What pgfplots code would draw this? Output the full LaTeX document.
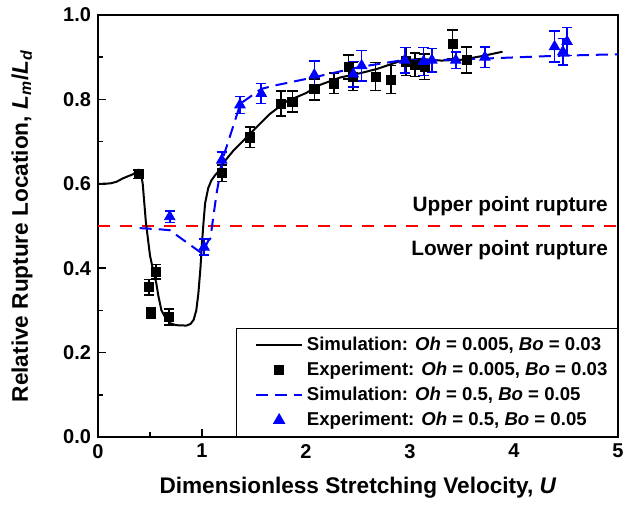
\documentclass[border=0pt]{standalone}
\usepackage{fontspec}
\setmainfont{Liberation Sans}
\usepackage{pgfplots}
\pgfplotsset{compat=1.18}
\begin{document}
\begin{tikzpicture}
\begin{axis}[
  name=ax, scale only axis, width=260pt, height=211pt,
  xmin=0, xmax=5, ymin=0, ymax=1,
  axis line style={line width=1pt},
  tick align=inside, xtick pos=bottom, ytick pos=left,
  xtick={0,1,2,3,4,5}, ytick={0,0.2,0.4,0.6,0.8,1.0},
  minor xtick={0.5,1.5,2.5,3.5,4.5}, minor ytick={0.1,0.3,0.5,0.7,0.9},
  major tick length=4pt, minor tick length=2.6pt,
  every tick/.style={black, line width=0.8pt},
  /pgf/number format/assume math mode=true,
  ticklabel style={font=\fontsize{10}{12}\selectfont\bfseries},
  yticklabel style={/pgf/number format/.cd, fixed, fixed zerofill, precision=1},
  xticklabel style={/pgf/number format/.cd, fixed, precision=0},
  xlabel={Dimensionless Stretching Velocity, \textit{U}},
  ylabel={Relative Rupture Location, \textit{L}\textsubscript{\textit{m}}/\textit{L}\textsubscript{\textit{d}}},
  label style={font=\fontsize{11.3}{13}\selectfont\bfseries},
  xlabel style={at={(axis description cs:0.5,-0.121)}, anchor=center},
  ylabel style={at={(axis description cs:-0.146,0.5)}, anchor=center},
  legend style={at={(1,0)}, anchor=south east, draw=black, line width=0.6pt,
    font=\fontsize{9.3}{11}\selectfont\bfseries, row sep=0.3pt, inner xsep=3pt, inner ysep=2pt,
    cells={anchor=west}},
  legend image code/.code={\path (-0.22cm,0cm); \draw[mark repeat=2,mark phase=2] plot coordinates {(0cm,0cm) (0.4cm,0cm) (0.8cm,0cm)};},
]
% threshold line
\addplot[red, line width=0.8pt, dash pattern=on 6pt off 5pt, forget plot] coordinates {(0,0.5) (5,0.5)};

% black simulation
\addplot[black, line width=1pt, no markers] coordinates {
(0,0.600) (0.04,0.600) (0.12,0.601) (0.18,0.605) (0.24,0.613) (0.30,0.619) (0.34,0.623) (0.37,0.629) (0.39,0.633)
(0.41,0.628) (0.43,0.60) (0.46,0.51) (0.5,0.43) (0.53,0.395) (0.56,0.365) (0.58,0.335) (0.61,0.30) (0.65,0.282)
(0.69,0.270) (0.75,0.265) (0.85,0.264) (0.89,0.268) (0.92,0.278) (0.945,0.30) (0.965,0.34) (0.985,0.40) (1.0,0.46)
(1.015,0.51) (1.03,0.554) (1.06,0.59) (1.09,0.608) (1.125,0.620) (1.17,0.633) (1.2,0.648) (1.3,0.678)
(1.46,0.718) (1.65,0.765) (1.81,0.795) (2.0,0.815) (2.13,0.834) (2.33,0.852) (2.52,0.862) (2.68,0.872)
(2.92,0.892) (3.1,0.896) (3.3,0.892) (3.5,0.894) (3.7,0.903) (3.89,0.913)};
\addlegendentry{Simulation: \textit{Oh} = 0.005, \textit{Bo} = 0.03}

% black experiment
\addplot[black, only marks, mark=square*, mark size=2.3pt,
  error bars/.cd, y dir=both, y explicit,
  error bar style={line width=0.8pt, black},
  error mark options={rotate=90, mark size=2.6pt, line width=0.8pt, black}]
  table[x=x, y=y, y error=e] {
x y e
0.39 0.623 0.010
0.49 0.355 0.018
0.51 0.293 0.012
0.56 0.392 0.017
0.68 0.284 0.019
1.19 0.625 0.020
1.46 0.710 0.024
1.76 0.790 0.030
1.87 0.795 0.025
2.08 0.824 0.025
2.27 0.838 0.024
2.41 0.877 0.028
2.45 0.854 0.033
2.67 0.854 0.033
2.82 0.847 0.033
2.96 0.890 0.033
3.05 0.882 0.028
3.14 0.877 0.030
3.41 0.931 0.034
3.545 0.893 0.031
};
\addlegendentry{Experiment: \textit{Oh} = 0.005, \textit{Bo} = 0.03}

% blue simulation
\addplot[blue, line width=1pt, dash pattern=on 6pt off 3.5pt, no markers] coordinates {
(0.4,0.495) (0.6,0.492) (0.69,0.49) (1.0,0.435) (1.06,0.465) (1.08,0.47) (1.14,0.577) (1.2,0.66)
(1.37,0.79) (1.57,0.825) (1.72,0.834) (2.07,0.852) (2.52,0.877) (2.93,0.893) (3.22,0.893)
(3.74,0.897) (4.375,0.903) (5.0,0.907)};
\addlegendentry{Simulation: \textit{Oh} = 0.5, \textit{Bo} = 0.05}

% blue experiment
\addplot[blue, only marks, mark=triangle*, mark size=3pt,
  error bars/.cd, y dir=both, y explicit,
  error bar style={line width=0.8pt, blue},
  error mark options={rotate=90, mark size=2.6pt, line width=0.8pt, blue}]
  table[x=x, y=y, y error=e] {
x y e
0.69 0.522 0.014
1.02 0.450 0.019
1.19 0.656 0.020
1.365 0.787 0.020
1.57 0.814 0.024
2.08 0.858 0.033
2.455 0.860 0.030
2.535 0.880 0.036
2.95 0.893 0.030
3.13 0.890 0.033
3.21 0.893 0.028
3.44 0.893 0.020
3.72 0.900 0.024
4.39 0.925 0.037
4.47 0.913 0.031
4.51 0.937 0.033
};
\addlegendentry{Experiment: \textit{Oh} = 0.5, \textit{Bo} = 0.05}

\node[anchor=east, font=\fontsize{10.4}{12}\selectfont\bfseries] at (axis cs:4.97,0.547) {Upper point rupture};
\node[anchor=east, font=\fontsize{10.4}{12}\selectfont\bfseries] at (axis cs:4.97,0.443) {Lower point rupture};
\end{axis}
\pgfresetboundingbox
\path[use as bounding box] ([xshift=-49pt,yshift=-35.5pt]ax.south west) rectangle ([xshift=3pt,yshift=7.5pt]ax.north east);
\end{tikzpicture}
\end{document}
